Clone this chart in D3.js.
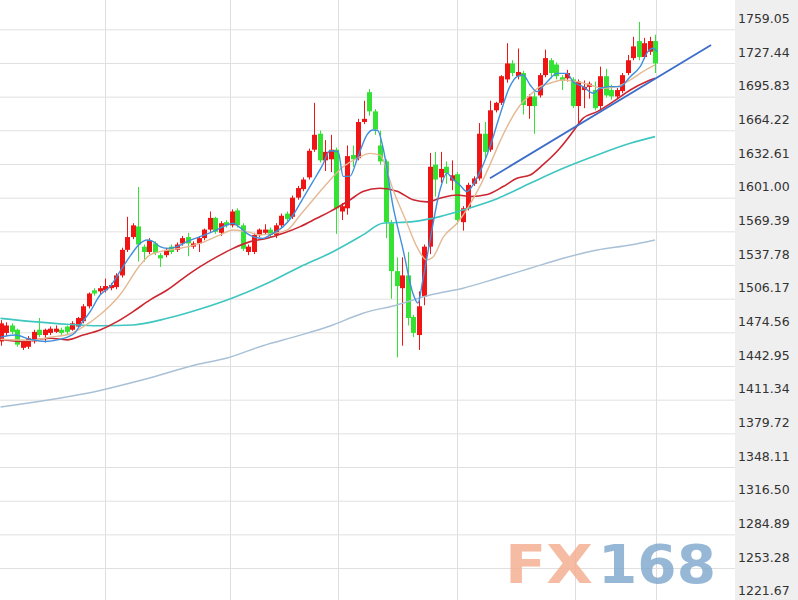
<!DOCTYPE html>
<html><head><meta charset="utf-8">
<script src="https://cdn.jsdelivr.net/npm/d3@7"></script>
<style>body{margin:0;background:#fff}svg{display:block}</style>
</head><body><svg id="c" width="798" height="600"></svg>
<script>
// ---- data ----
const priceTicks = [1759.05,1727.44,1695.83,1664.22,1632.61,1601.00,1569.39,1537.78,1506.17,1474.56,1442.95,1411.34,1379.72,1348.11,1316.50,1284.89,1253.28,1221.67];
const monthLines = [18.95,41.73,61.36,83,104.45,119.2];
const opens  = [1466,1474,1481,1477,1460,1461,1466,1477,1472,1474,1475,1477,1480,1477,1480,1485,1499,1514,1513,1514,1516,1517,1528,1552,1564,1574,1555,1550,1558,1547,1547,1555,1552,1558,1564,1555,1558,1563,1571,1582,1568,1578,1575,1589,1575,1550,1550,1566,1568,1571,1566,1575,1586,1583,1601,1609,1620,1646,1661,1636,1637,1646,1588,1591,1641,1638,1672,1700,1682,1650,1635,1577,1532,1516,1528,1489,1472,1508,1555,1632,1620,1630,1617,1623,1578,1591,1614,1619,1661,1646,1683,1690,1712,1727,1715,1718,1687,1696,1697,1716,1730,1726,1714,1713,1712,1687,1702,1705,1702,1687,1715,1702,1696,1701,1718,1732,1748,1733,1738,1748];
const highs  = [1486,1484,1483,1478,1467,1471,1477,1488,1478,1480,1481,1479,1481,1485,1489,1501,1512,1516,1518,1525,1521,1530,1554,1583,1577,1611,1557,1563,1560,1549,1554,1557,1559,1565,1568,1560,1565,1572,1588,1583,1579,1580,1590,1591,1577,1557,1568,1572,1576,1573,1577,1586,1588,1603,1612,1620,1647,1690,1664,1655,1660,1648,1596,1650,1650,1675,1692,1703,1684,1664,1637,1580,1545,1545,1550,1491,1513,1557,1643,1644,1644,1635,1636,1625,1593,1615,1621,1671,1672,1692,1691,1716,1746,1730,1741,1720,1698,1700,1718,1740,1732,1728,1716,1721,1714,1712,1711,1710,1710,1724,1722,1707,1704,1718,1735,1752,1766,1751,1752,1754];
const lows   = [1462,1471,1473,1461,1458,1459,1464,1470,1465,1472,1474,1472,1473,1476,1479,1483,1497,1509,1510,1512,1514,1515,1526,1550,1562,1541,1541,1548,1547,1536,1545,1548,1550,1556,1546,1553,1550,1561,1569,1567,1565,1573,1573,1573,1551,1547,1548,1564,1566,1564,1563,1573,1579,1581,1599,1607,1618,1644,1634,1626,1625,1567,1580,1585,1630,1636,1670,1678,1660,1632,1563,1506,1451,1462,1481,1470,1458,1500,1548,1602,1615,1614,1608,1576,1570,1589,1612,1617,1638,1644,1681,1688,1709,1715,1712,1679,1675,1661,1695,1714,1713,1712,1702,1710,1685,1671,1685,1694,1683,1683,1695,1693,1694,1699,1716,1730,1730,1731,1735,1718];
const closes = [1483,1481,1475,1463,1466,1469,1475,1472,1477,1478,1478,1474,1475,1483,1488,1499,1511,1511,1516,1518,1519,1528,1552,1564,1575,1557,1550,1561,1549,1544,1552,1550,1557,1563,1558,1558,1563,1571,1582,1569,1577,1575,1588,1575,1553,1555,1566,1571,1571,1566,1575,1584,1581,1601,1610,1618,1645,1660,1636,1644,1646,1591,1593,1640,1637,1672,1675,1682,1665,1635,1578,1532,1518,1528,1488,1474,1499,1555,1630,1618,1628,1624,1622,1580,1591,1613,1619,1661,1644,1683,1690,1715,1727,1718,1719,1688,1696,1687,1716,1732,1718,1715,1711,1718,1687,1710,1705,1708,1685,1715,1697,1696,1702,1716,1730,1743,1733,1746,1748,1727];
// moving averages: [candle index, price]
const ma5 = [[0,1470],[2.6,1472],[5.4,1468],[8.1,1466],[10.8,1468],[13.5,1474],[14.5,1481.5],[16.3,1494],[18.1,1509.6],[19.9,1517.5],[21.7,1531.5],[23.5,1545.6],[25.4,1558.1],[26.6,1561.3],[27.7,1560],[29,1555],[30.3,1553.4],[32.1,1555],[33.9,1559.7],[36.3,1564.4],[38.6,1569.1],[41.2,1575.3],[42.3,1576.9],[43.5,1573],[44.8,1567.5],[45.9,1564.4],[47.7,1562.8],[49.5,1567.5],[51.4,1573.8],[53.2,1584.7],[55,1600.4],[56.8,1616],[58.6,1632],[59.9,1645],[61.4,1644],[62.3,1621],[63.5,1621],[65,1639.5],[66.6,1659.8],[67.7,1664.5],[68.6,1664],[69.5,1649],[71.4,1592],[73.2,1552],[75,1511],[75.9,1502],[76.8,1524],[78.1,1561],[79.9,1608],[81.2,1624],[82.1,1619],[83.5,1612.9],[84.8,1606.7],[85.9,1612.9],[87.2,1625.4],[89,1648.9],[90.8,1678.6],[92.6,1705.2],[93.9,1714.6],[95,1716.2],[96.3,1706.8],[97.5,1700.5],[99.4,1709.9],[101.2,1717.7],[103,1717.7],[104.1,1709.9],[105.9,1705.2],[107.8,1699],[109,1703.7],[110.8,1705.2],[112.6,1705.2],[114.5,1714.6],[116.3,1724],[117.7,1738.1],[118.6,1741.2],[119.4,1738]];
const ma10 = [[0,1468],[5.4,1467],[9,1470],[12.6,1473],[14.5,1478],[18.1,1491],[21.7,1509.6],[25.4,1537.8],[27.2,1547.2],[29,1550.3],[32.6,1553.4],[36.3,1558.1],[39.9,1566],[42.3,1570.6],[44.8,1569.1],[47.2,1566],[49.5,1567.5],[52.1,1570.6],[54.5,1584.7],[56.8,1598.8],[59.4,1614.5],[62.3,1630],[64.8,1637.9],[67.2,1642.6],[69,1641],[71.4,1608],[73.9,1577],[75.7,1555],[77.5,1542.5],[78.6,1545],[80.5,1564],[83,1577],[84.8,1590],[87.2,1612],[89,1632],[90.8,1653.6],[92.6,1672.4],[94.5,1688],[96.3,1697.4],[98.1,1705.2],[99.9,1708.4],[102.3,1711.5],[104.8,1709.9],[107.2,1706.8],[109.5,1703.7],[112.1,1705.2],[114.5,1711.5],[116.8,1719.3],[119,1725.6]];
const ma20 = [[0,1468],[3.5,1466],[9,1469],[12.1,1467.5],[15,1472],[18.1,1476.8],[21.2,1484.6],[24.1,1494],[27.2,1505],[30.3,1514.3],[33.2,1525.3],[36.3,1536.2],[39.4,1545.6],[42.3,1553.4],[45.4,1559.7],[48.5,1562.8],[51.4,1567.5],[54.5,1573.8],[57.5,1581.6],[59.9,1587.9],[63.5,1598.8],[65.9,1606.7],[69,1609.8],[72.1,1607],[75,1599],[77.5,1597],[79.9,1600.4],[83,1603.5],[85.4,1602],[88.5,1604],[91.4,1611.4],[93.9,1619.2],[96.3,1622.3],[98.6,1631.7],[101.7,1647.3],[104.1,1663],[105.9,1675.5],[108.5,1681.8],[111.4,1691.1],[114.5,1702.1],[117.5,1710],[119,1713]];
const ma60 = [[0,1487.7],[5.9,1484.6],[12.1,1482.1],[18.1,1480.8],[24.1,1481.5],[30.3,1487.7],[36.3,1496.5],[42.3,1507.1],[48.5,1520.6],[54.5,1536.2],[59.9,1548.8],[65.9,1566],[69.5,1576.9],[75,1578.5],[79.9,1583.2],[84.1,1589.4],[90.3,1600],[96.3,1614.5],[102.3,1628.6],[108.5,1641.1],[114.5,1652],[119,1658.3]];
const ma120 = [[0,1404.5],[18.1,1420],[25.9,1430],[36.3,1445],[41.2,1450.5],[47.7,1462],[53.9,1471],[59.9,1480.5],[65.9,1492.5],[72.1,1500.3],[78.1,1509.7],[84.1,1516],[90.3,1525.3],[96.3,1534.7],[102.3,1544.1],[108.5,1551.9],[114.5,1556.6],[119,1561.3]];
const trendLine = [[89,1619.2],[129.2,1744.3]];

// ---- chart ----
const svg = d3.select('#c');
const plotRight = 735;
const x = d3.scaleLinear().domain([0,119]).range([0.5,655]);
const y = d3.scaleLinear().domain([1221.67,1759.05]).range([601.7,29.3]);
const px = v => Math.round(x(v)) + 0.5;

svg.append('rect').attr('width',798).attr('height',600).attr('fill','#fff');
svg.append('rect').attr('x',plotRight).attr('y',0).attr('width',798-plotRight).attr('height',600).attr('fill','#efefef');

// vertical grid
svg.append('g').selectAll('line').data(monthLines).join('line')
  .attr('x1',d=>px(d)).attr('x2',d=>px(d)).attr('y1',0).attr('y2',600)
  .attr('stroke','#dedede').attr('stroke-width',1);

// horizontal grid + labels
const ax = svg.append('g').call(d3.axisRight(y).tickValues(priceTicks).tickFormat(d=>d.toFixed(2)).tickSize(plotRight).tickPadding(3));
ax.select('.domain').remove();
ax.selectAll('.tick line').attr('stroke','#e0e0e0');
ax.selectAll('.tick text').attr('fill','#333').attr('dy','-0.55em')
  .style('font-family','"DejaVu Sans", Verdana, sans-serif').style('font-size','12.5px');

// watermark
const wm = svg.append('g').attr('opacity',0.82).style('font-family','"DejaVu Sans", sans-serif').style('font-weight','bold');
wm.append('text').attr('x',505).attr('y',583).attr('font-size',54).attr('textLength',88).attr('lengthAdjust','spacingAndGlyphs').attr('fill','#f4ad90').text('FX');
wm.append('text').attr('x',598).attr('y',583).attr('font-size',54).attr('textLength',118).attr('lengthAdjust','spacingAndGlyphs').attr('fill','#7fa8cc').text('168');

// candles
const idx = d3.range(opens.length);
const up = i => closes[i] >= opens[i];
const col = i => up(i) ? '#f01414' : '#33e233';
const cg = svg.append('g');
cg.selectAll('line').data(idx).join('line')
  .attr('x1',i=>px(i)).attr('x2',i=>px(i)).attr('y1',i=>y(highs[i])).attr('y2',i=>y(lows[i]))
  .attr('stroke',col).attr('stroke-width',1);
cg.selectAll('rect').data(idx).join('rect')
  .attr('x',i=>Math.round(x(i))-2).attr('width',5)
  .attr('y',i=>y(Math.max(opens[i],closes[i])))
  .attr('height',i=>Math.max(1,Math.abs(y(opens[i])-y(closes[i]))))
  .attr('fill',col);

// moving averages
const line = d3.line().x(d=>x(d[0])).y(d=>y(d[1])).curve(d3.curveMonotoneX);
const lines = [[ma120,'#a9c1d6',1.5],[ma60,'#3ec6c0',1.6],[ma20,'#cc2630',1.6],[ma10,'#e4b994',1.4],[ma5,'#3f8fdc',1.4],[trendLine,'#3d6ec8',1.8]];
svg.append('g').selectAll('path').data(lines).join('path')
  .attr('d',d=>line(d[0])).attr('fill','none').attr('stroke',d=>d[1]).attr('stroke-width',d=>d[2]);
</script></body></html>
